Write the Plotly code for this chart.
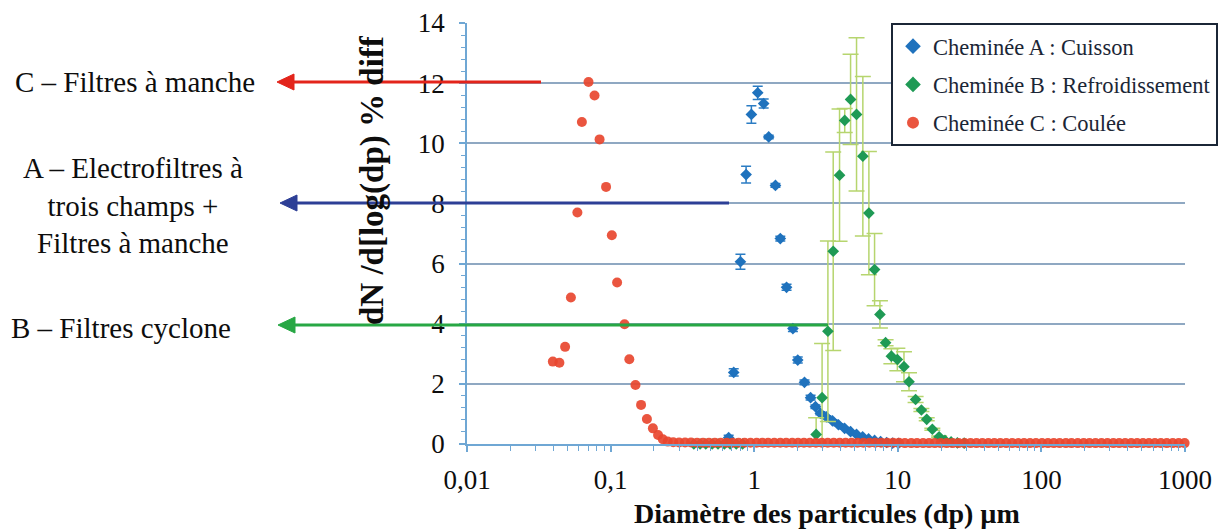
import plotly.graph_objects as go

# ---------------- data ----------------
# Cheminée A : Cuisson (blue)
xA = [0.664, 0.720, 0.802, 0.878, 0.956, 1.058, 1.164, 1.262, 1.406, 1.52,
      1.68, 1.86, 2.01, 2.24, 2.47, 2.67, 2.89, 3.18, 3.51, 3.86,
      4.26, 4.69, 5.16, 5.69, 6.26, 6.89, 7.59, 8.36, 9.20, 10.1]
yA = [0.21, 2.38, 6.06, 8.96, 10.96, 11.68, 11.32, 10.21, 8.60, 6.83,
      5.21, 3.84, 2.79, 2.05, 1.54, 1.24, 1.02, 0.90, 0.77, 0.64,
      0.52, 0.41, 0.32, 0.24, 0.17, 0.12, 0.08, 0.05, 0.03, 0.02]
eA = [0.08, 0.12, 0.25, 0.28, 0.29, 0.22, 0.15, 0.06, 0.06, 0.08,
      0.10, 0.10, 0.10, 0.08, 0.08, 0.06, 0.05, 0.04, 0.04, 0.03,
      0.03, 0.03, 0.02, 0.02, 0.02, 0.02, 0.01, 0.01, 0.01, 0.01]

# Cheminée B : Refroidissement (green)
xB = [0.38, 0.42, 0.46, 0.51, 0.56, 0.62, 0.68, 0.75, 0.83,
      2.70, 2.97, 3.26, 3.55, 3.93, 4.27, 4.69, 5.16, 5.71, 6.29,
      6.89, 7.51, 8.22, 9.02, 9.93, 11.04, 11.97, 13.3, 14.6, 15.9,
      17.4, 19.4, 21.3, 23.5, 26.0, 29.0]
yB = [0.0, 0.0, 0.0, 0.0, 0.0, 0.0, 0.0, 0.0, 0.0,
      0.32, 1.54, 3.75, 6.41, 8.94, 10.76, 11.46, 10.96, 9.57, 7.68,
      5.80, 4.31, 3.37, 2.92, 2.81, 2.57, 2.07, 1.48, 1.13, 0.82,
      0.49, 0.24, 0.12, 0.07, 0.04, 0.03]
eB = [0.0, 0.0, 0.0, 0.0, 0.0, 0.0, 0.0, 0.0, 0.0,
      0.55, 1.80, 3.00, 3.30, 2.20, 0.40, 1.50, 2.55, 2.65, 2.05,
      1.20, 0.45, 0.10, 0.25, 0.37, 0.50, 0.30, 0.10, 0.05, 0.05,
      0.03, 0.03, 0.0, 0.0, 0.0, 0.0]

# Cheminée C : Coulée (red)
xC = [0.0396, 0.0440, 0.0482, 0.0529, 0.0587, 0.0631, 0.0702, 0.0773, 0.0838, 0.0930,
      0.102, 0.111, 0.125, 0.135, 0.149, 0.163, 0.179, 0.197, 0.214, 0.231,
      0.250, 0.273, 0.300, 0.330, 0.363, 0.400, 0.440, 0.484, 0.532, 0.585,
      0.644, 0.708, 0.779, 0.857, 0.943, 1.04, 1.14, 1.25, 1.38, 1.52,
      1.67, 1.84, 2.02, 2.22, 2.44, 2.69, 2.96, 3.25, 3.58, 3.94,
      4.33, 4.76, 5.24, 5.76, 6.34, 6.97, 7.67, 8.44, 9.28, 10.2,
      11.2, 12.4, 13.6, 15.0, 16.5, 18.1, 19.9, 21.9, 24.1, 26.5,
      29.2, 32.1, 35.3, 38.8, 42.7, 47.0, 51.7, 56.9, 62.6, 68.8,
      75.7, 83.3, 91.6, 101, 111, 122, 134, 148, 162, 179,
      197, 216, 238, 262, 288, 317, 348, 383, 422, 464,
      510, 561, 617, 679, 747, 822, 904, 994]
yC = [2.74, 2.70, 3.23, 4.87, 7.70, 10.71, 12.04, 11.59, 10.13, 8.55,
      6.94, 5.37, 3.98, 2.82, 1.96, 1.30, 0.83, 0.52, 0.30, 0.16,
      0.08, 0.06, 0.05, 0.05, 0.05, 0.04, 0.04, 0.04, 0.04, 0.04,
      0.04, 0.04, 0.04, 0.04, 0.04, 0.04, 0.04, 0.04, 0.04, 0.04,
      0.04, 0.04, 0.04, 0.04, 0.04, 0.04, 0.04, 0.04, 0.04, 0.04,
      0.04, 0.04, 0.04, 0.04, 0.04, 0.04, 0.04, 0.04, 0.04, 0.04,
      0.03, 0.03, 0.03, 0.03, 0.03, 0.03, 0.03, 0.03, 0.03, 0.03,
      0.03, 0.03, 0.03, 0.03, 0.03, 0.03, 0.03, 0.03, 0.03, 0.03,
      0.03, 0.03, 0.03, 0.03, 0.03, 0.03, 0.03, 0.03, 0.03, 0.03,
      0.03, 0.03, 0.03, 0.03, 0.03, 0.03, 0.03, 0.03, 0.03, 0.03,
      0.03, 0.03, 0.03, 0.03, 0.03, 0.03, 0.03, 0.03]

names = ["Cheminée A : Cuisson", "Cheminée B : Refroidissement", "Cheminée C : Coulée"]
x_tickvals = [0.01, 0.1, 1, 10, 100, 1000]
x_ticktext = ["0,01", "0,1", "1", "10", "100", "1000"]

# ---------------- layout geometry ----------------
W, H = 1225, 532
L, R, T, B = 467, 1185, 23, 444


def px(x):
    return (x - L) / (R - L)


def py(y):
    return (B - y) / (B - T)


SERIF = "Liberation Serif"
AXC = "#6fa7d4"
TXT = "#0d0d0d"

fig = go.Figure()
fig.add_trace(go.Scatter(
    x=xA, y=yA, mode="markers", name=names[0], legendgroup="A",
    marker=dict(symbol="diamond", size=9, color="#1f72bd"),
    error_y=dict(type="data", array=eA, color="#2b7cc3", thickness=1.5, width=5),
    cliponaxis=False))
fig.add_trace(go.Scatter(
    x=xB, y=yB, mode="markers", name=names[1], legendgroup="B",
    marker=dict(symbol="diamond", size=9, color="#1f9a55"),
    error_y=dict(type="data", array=eB, color="#b6d56e", thickness=1.5, width=8),
    cliponaxis=False))
fig.add_trace(go.Scatter(
    x=xC, y=yC, mode="markers", name=names[2], legendgroup="C",
    marker=dict(symbol="circle", size=10, color="#e8472f", opacity=0.92),
    cliponaxis=False))

fig.update_layout(
    width=W, height=H,
    margin=dict(l=L, r=W - R, t=T, b=H - B, autoexpand=False),
    paper_bgcolor="white", plot_bgcolor="white",
    font=dict(family=SERIF, color=TXT),
    xaxis=dict(
        type="log", range=[-2, 3],
        tickmode="array", tickvals=x_tickvals, ticktext=x_ticktext,
        ticks="outside", ticklen=6, tickwidth=1.5, tickcolor=AXC,
        showline=True, linecolor=AXC, linewidth=1.5,
        showgrid=False, zeroline=False,
        minor=dict(ticks="outside", ticklen=5, tickwidth=1, tickcolor=AXC,
                   dtick="D1", showgrid=False),
        tickfont=dict(family=SERIF, size=27, color=TXT),
        ticklabelstandoff=5,
    ),
    yaxis=dict(
        range=[0, 14], tick0=0, dtick=2,
        showgrid=True, gridcolor="#8fa8c2", gridwidth=1.5,
        ticks="outside", ticklen=6, tickwidth=1.5, tickcolor=AXC,
        showline=True, linecolor=AXC, linewidth=1.5, zeroline=False,
        minor=dict(ticks="outside", dtick=0.4, ticklen=4, tickwidth=1,
                   tickcolor=AXC, showgrid=False),
        tickfont=dict(family=SERIF, size=27, color=TXT),
        ticklabelstandoff=9,
    ),
    legend=dict(
        x=px(891), y=1.0, xanchor="left", yanchor="top",
        bgcolor="white", bordercolor="#1b2636", borderwidth=2,
        font=dict(family=SERIF, size=22.5, color="#1b2636"),
        tracegroupgap=6, itemsizing="constant",
    ),
    showlegend=True,
)

ann = []
# axis titles
ann.append(dict(text="<b>Diamètre des particules (dp) µm</b>", x=px(827), y=py(513),
                xref="paper", yref="paper", showarrow=False, xanchor="center", yanchor="middle",
                font=dict(family=SERIF, size=28, color=TXT)))
ann.append(dict(text="<b>dN /d[log(dp) % diff</b>", x=px(372), y=py(180), textangle=-90,
                xref="paper", yref="paper", showarrow=False, xanchor="center", yanchor="middle",
                font=dict(family=SERIF, size=33, color=TXT)))
# left side labels
left_font = dict(family=SERIF, size=29, color=TXT)
ann.append(dict(text="C – Filtres à manche", x=px(135), y=py(82),
                xref="paper", yref="paper", showarrow=False, xanchor="center", yanchor="middle",
                font=left_font))
ann.append(dict(text="A – Electrofiltres à<br>trois champs +<br>Filtres à manche", x=px(133), y=py(205),
                xref="paper", yref="paper", showarrow=False, xanchor="center", yanchor="middle",
                align="center", font=left_font))
ann.append(dict(text="B – Filtres cyclone", x=px(121), y=py(328),
                xref="paper", yref="paper", showarrow=False, xanchor="center", yanchor="middle",
                font=left_font))
fig.update_layout(annotations=ann)

shapes = []


def arrow(x_tail, x_tip, y, color):
    shapes.append(dict(type="line", xref="paper", yref="paper",
                       x0=px(x_tail), y0=py(y), x1=px(x_tip + 12), y1=py(y),
                       line=dict(color=color, width=3)))
    shapes.append(dict(type="path", xref="paper", yref="paper",
                       path=f"M {px(x_tip)},{py(y)} L {px(x_tip + 17)},{py(y - 8)} "
                            f"L {px(x_tip + 17)},{py(y + 8)} Z",
                       fillcolor=color, line=dict(color=color, width=1)))


arrow(541, 277, 82, "#e3241b")
arrow(729, 280, 203, "#2d3f96")
arrow(828, 278, 325, "#27a744")
fig.update_layout(shapes=shapes)

fig.write_html("out.html", config={"displayModeBar": False},
               post_script="document.body.style.margin='0px';document.body.style.overflow='hidden';")
